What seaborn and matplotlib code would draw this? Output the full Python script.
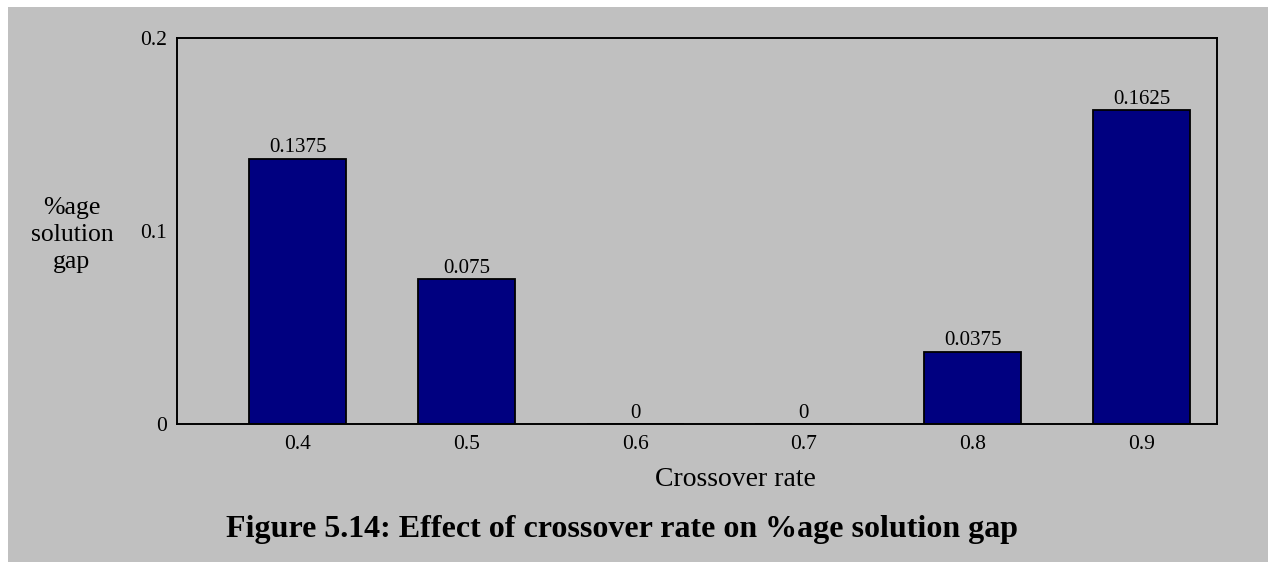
import matplotlib
matplotlib.use("Agg")
from matplotlib import pyplot as plt
from matplotlib.patches import Rectangle
import seaborn as sns
import pandas as pd

rates = ["0.4", "0.5", "0.6", "0.7", "0.8", "0.9"]
gaps = [0.1375, 0.075, 0.0, 0.0, 0.0375, 0.1625]
y_ticks = [0, 0.1, 0.2]
y_tick_labels = ["0", "0.1", "0.2"]

sns.set_style("white")
plt.rcParams['font.family'] = ['Liberation Serif', 'DejaVu Serif']
plt.rcParams['text.color'] = 'black'

df = pd.DataFrame({"rate": rates, "gap": gaps})

W, H = 1268, 562
fig = plt.figure(figsize=(W / 100, H / 100), dpi=100, facecolor="white")
# grey panel with a thin white margin at top and left
fig.patches.append(Rectangle((8 / W, 0), 1, 1 - 7 / H, transform=fig.transFigure,
                             facecolor="#c0c0c0", edgecolor="none", zorder=-10))

ax = fig.add_axes([177 / W, 1 - 424 / H, (1217 - 177) / W, (424 - 38) / H])
ax.set_facecolor("none")
ax.set_zorder(5)

sns.barplot(data=df, x="rate", y="gap", color="#000080", saturation=1,
            width=0.575, edgecolor="black", linewidth=1.3, ax=ax)

ax.bar_label(ax.containers[0], labels=["%g" % v for v in gaps], padding=1,
             fontsize=15, color="black")

ax.set_xlim(-0.714, 5.447)
ax.set_ylim(0, 0.2)
ax.set_yticks(y_ticks)
ax.set_yticklabels(y_tick_labels)
ax.tick_params(axis="both", length=0, labelsize=15.5, colors="black")
ax.tick_params(axis="x", pad=8)
ax.tick_params(axis="y", pad=7)
for s in ax.spines.values():
    s.set_visible(True)
    s.set_color("black")
    s.set_linewidth(1.4)

ax.set_xlabel("")
ax.set_ylabel("")
fig.text(735 / W, 1 - 479 / H, "Crossover rate", ha="center", va="center", fontsize=20)
fig.text(72 / W, 1 - 235 / H, "%age\nsolution\ngap", ha="center", va="center",
         multialignment="center", fontsize=18.5, linespacing=1.3)
fig.text(622 / W, 1 - 529 / H, "Figure 5.14: Effect of crossover rate on %age solution gap",
         ha="center", va="center", fontsize=23, fontweight="bold")

fig.savefig("out.png", dpi=100, facecolor=fig.get_facecolor())
